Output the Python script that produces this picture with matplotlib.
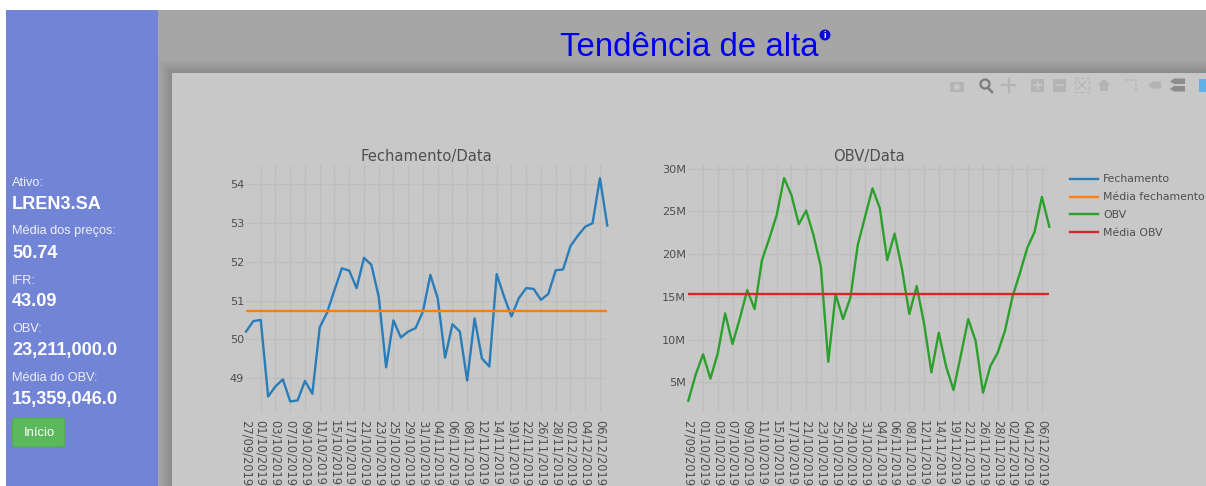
#!/usr/bin/env python3

import matplotlib
matplotlib.use("Agg")
import matplotlib.pyplot as plt
from matplotlib.patches import Rectangle, Circle, FancyBboxPatch

# data
datas = ["27/09/2019", "01/10/2019", "03/10/2019", "07/10/2019", "09/10/2019",
         "11/10/2019", "15/10/2019", "17/10/2019", "21/10/2019", "23/10/2019",
         "25/10/2019", "29/10/2019", "31/10/2019", "04/11/2019", "06/11/2019",
         "08/11/2019", "12/11/2019", "14/11/2019", "19/11/2019", "22/11/2019",
         "26/11/2019", "28/11/2019", "02/12/2019", "04/12/2019", "06/12/2019"]

fechamento = [50.20, 50.47, 50.50, 48.53, 48.79, 48.97, 48.40, 48.43, 48.93, 48.60,
              50.31, 50.69, 51.27, 51.83, 51.77, 51.32, 52.10, 51.92, 51.10, 49.28,
              50.49, 50.05, 50.20, 50.29, 50.72, 51.66, 51.06, 49.53, 50.39, 50.20,
              48.94, 50.54, 49.51, 49.30, 51.68, 51.10, 50.59, 51.06, 51.32, 51.30,
              51.02, 51.17, 51.78, 51.80, 52.40, 52.67, 52.90, 52.99, 54.15, 52.93]
media_fechamento = 50.74

obv = [2.85, 5.9, 8.28, 5.43, 8.4, 13.07, 9.49, 12.5, 15.8, 13.58,
       19.3, 21.85, 24.58, 28.9, 26.9, 23.5, 25.1, 22.2, 18.5, 7.4,
       15.3, 12.4, 14.9, 21.07, 24.4, 27.7, 25.36, 19.3, 22.4, 18.3,
       13.0, 16.27, 11.9, 6.17, 10.8, 6.83, 4.1, 8.2, 12.4, 9.84,
       3.8, 6.9, 8.47, 11.1, 15.0, 17.75, 20.7, 22.6, 26.7, 23.21]
media_obv = 15.359

obv_ticks = [5, 10, 15, 20, 25, 30]
obv_tick_labels = ["5M", "10M", "15M", "20M", "25M", "30M"]
preco_ticks = [49, 50, 51, 52, 53, 54]

painel_labels = ["Ativo:", "Média dos preços:", "IFR:", "OBV:", "Média do OBV:"]
painel_valores = ["LREN3.SA", "50.74", "43.09", "23,211,000.0", "15,359,046.0"]

W, H = 1206, 486
TXT = "#4e4e4e"
GRID = "#bebebe"
SANS = "Liberation Sans"

fig = plt.figure(figsize=(W / 100, H / 100), dpi=100, facecolor="white")

# page behind the charts, in pixel coords
bg = fig.add_axes([0, 0, 1, 1])
bg.set_xlim(0, W)
bg.set_ylim(H, 0)
bg.axis("off")

bg.add_patch(Rectangle((6, 10), 152, H - 10, color="#7284d6", lw=0))
bg.add_patch(Rectangle((158, 10), W - 158, H - 10, color="#a6a6a6", lw=0))
# card shadow
for i in range(13, 0, -1):
    bg.add_patch(Rectangle((172 - i, 73 - i), W, H, color="black", alpha=0.009, lw=0))
bg.add_patch(Rectangle((172, 73), W, H, color="#c8c8c8", lw=0))

bg.text(689, 47, "Tendência de alta", color="#0000f0", fontsize=23.8, family=SANS,
        ha="center", va="center")
bg.add_patch(Circle((825, 35), 5.5, color="#0a0ad8", lw=0))
bg.text(825, 35, "i", color="white", fontsize=6.5, fontweight="bold", family=SANS,
        ha="center", va="center")

# side panel
label_y = [183, 231, 281, 329, 378]
valor_y = [204, 253, 301, 350, 399]
for txt, y in zip(painel_labels, label_y):
    bg.text(12, y, txt, color="#eef0fb", fontsize=9.2, family=SANS, va="center")
for txt, y in zip(painel_valores, valor_y):
    bg.text(12, y, txt, color="white", fontsize=13.1, fontweight="bold", family=SANS, va="center")
bg.add_patch(FancyBboxPatch((12.5, 418), 52, 29, boxstyle="round,pad=0,rounding_size=2",
                            fc="#5cb85c", ec="#4cae4c", lw=0.8))
bg.text(39, 432.5, "Início", color="white", fontsize=9.4, family=SANS, ha="center", va="center")

# plotly toolbar, just rough shapes
ICON = "#b4b4b4"
bg.add_patch(Rectangle((950, 82), 14, 10, color=ICON, lw=0))
bg.add_patch(Circle((957, 87), 3, color="#c8c8c8", lw=0))
bg.add_patch(Circle((985, 84), 4.5, fc="none", ec="#7c7c7c", lw=1.6))
bg.plot([988, 992], [88, 92], color="#7c7c7c", lw=1.8)
bg.plot([1002, 1015], [85, 85], color=ICON, lw=1.6)
bg.plot([1008.5, 1008.5], [79, 92], color=ICON, lw=1.6)
for x, plus in [(1031, True), (1053, False)]:
    bg.add_patch(Rectangle((x, 79), 13, 13, color=ICON, lw=0))
    bg.plot([x + 3, x + 10], [85.5, 85.5], color="#c8c8c8", lw=1.2)
    if plus:
        bg.plot([x + 6.5, x + 6.5], [82, 89], color="#c8c8c8", lw=1.2)
bg.add_patch(Rectangle((1075, 78), 14, 14, fc="none", ec=ICON, lw=0.8, ls=(0, (3, 2))))
bg.plot([1078, 1086], [81, 89], color=ICON, lw=0.9)
bg.plot([1078, 1086], [89, 81], color=ICON, lw=0.9)
bg.fill([1097, 1104, 1111, 1108, 1108, 1100, 1100], [85, 79, 85, 85, 91, 91, 85], color=ICON, lw=0)
bg.plot([1126, 1136, 1136], [80, 80, 90], color=ICON, lw=1.2, ls=(0, (1.5, 1.2)))
bg.fill([1148, 1152, 1161, 1161, 1152], [85, 81.5, 81.5, 88.5, 88.5], color=ICON, lw=0)
bg.fill([1170, 1174, 1185, 1185, 1174], [81.5, 78.5, 78.5, 84, 84], color="#8c8c8c", lw=0)
bg.fill([1170, 1174, 1185, 1185, 1174], [89, 86, 86, 91.5, 91.5], color="#8c8c8c", lw=0)
bg.add_patch(Rectangle((1199, 79), 7, 13, color="#62b0e8", lw=0))


def make_axes(x0, x1, top, bottom, ylim):
    ax = fig.add_axes([x0 / W, 1 - bottom / H, (x1 - x0) / W, (bottom - top) / H])
    ax.patch.set_visible(False)
    for s in ax.spines.values():
        s.set_visible(False)
    ax.set_xlim(0, 49)
    ax.set_ylim(*ylim)
    ax.set_xticks(range(0, 50, 2))
    ax.set_xticklabels(datas, rotation=270, ha="center", va="top")
    ax.grid(True, color=GRID, lw=1.0)
    ax.set_axisbelow(True)
    ax.get_xgridlines()[0].set_visible(False)
    ax.tick_params(axis="x", length=0, pad=6, labelsize=8.3, labelcolor=TXT)
    ax.tick_params(axis="y", length=0, pad=1.5, labelsize=8.1, labelcolor=TXT)
    return ax


x = list(range(len(fechamento)))

# left chart
ax1 = make_axes(246, 607.3, 165, 412, (48.13, 54.49))
l1, = ax1.plot(x, fechamento, color="#2a7db8", lw=1.7, label="Fechamento", clip_on=False)
l2, = ax1.plot([x[0], x[-1]], [media_fechamento] * 2, color="#ff7f0e", lw=1.7, label="Média fechamento")
ax1.set_yticks(preco_ticks)
ax1.set_title("Fechamento/Data", fontsize=10.6, color=TXT, pad=3, x=0.5)

# right chart
ax2 = make_axes(688.3, 1049.3, 165, 412, (1.53, 30.43))
l3, = ax2.plot(x, obv, color="#2ca02c", lw=1.7, label="OBV", clip_on=False)
l4, = ax2.plot([x[0], x[-1]], [media_obv] * 2, color="#d62728", lw=1.7, label="Média OBV")
ax2.set_yticks(obv_ticks)
ax2.set_yticklabels(obv_tick_labels)
ax2.set_title("OBV/Data", fontsize=10.6, color=TXT, pad=3, x=0.5)

fig.legend(handles=[l1, l2, l3, l4], loc="upper left", bbox_to_anchor=(1070 / W, 1 - 174.5 / H),
           frameon=False, fontsize=7.8, labelcolor=TXT, handlelength=2.6, handletextpad=0.46,
           labelspacing=0.72, borderpad=0, borderaxespad=0)

fig.savefig("out.png", dpi=100)
